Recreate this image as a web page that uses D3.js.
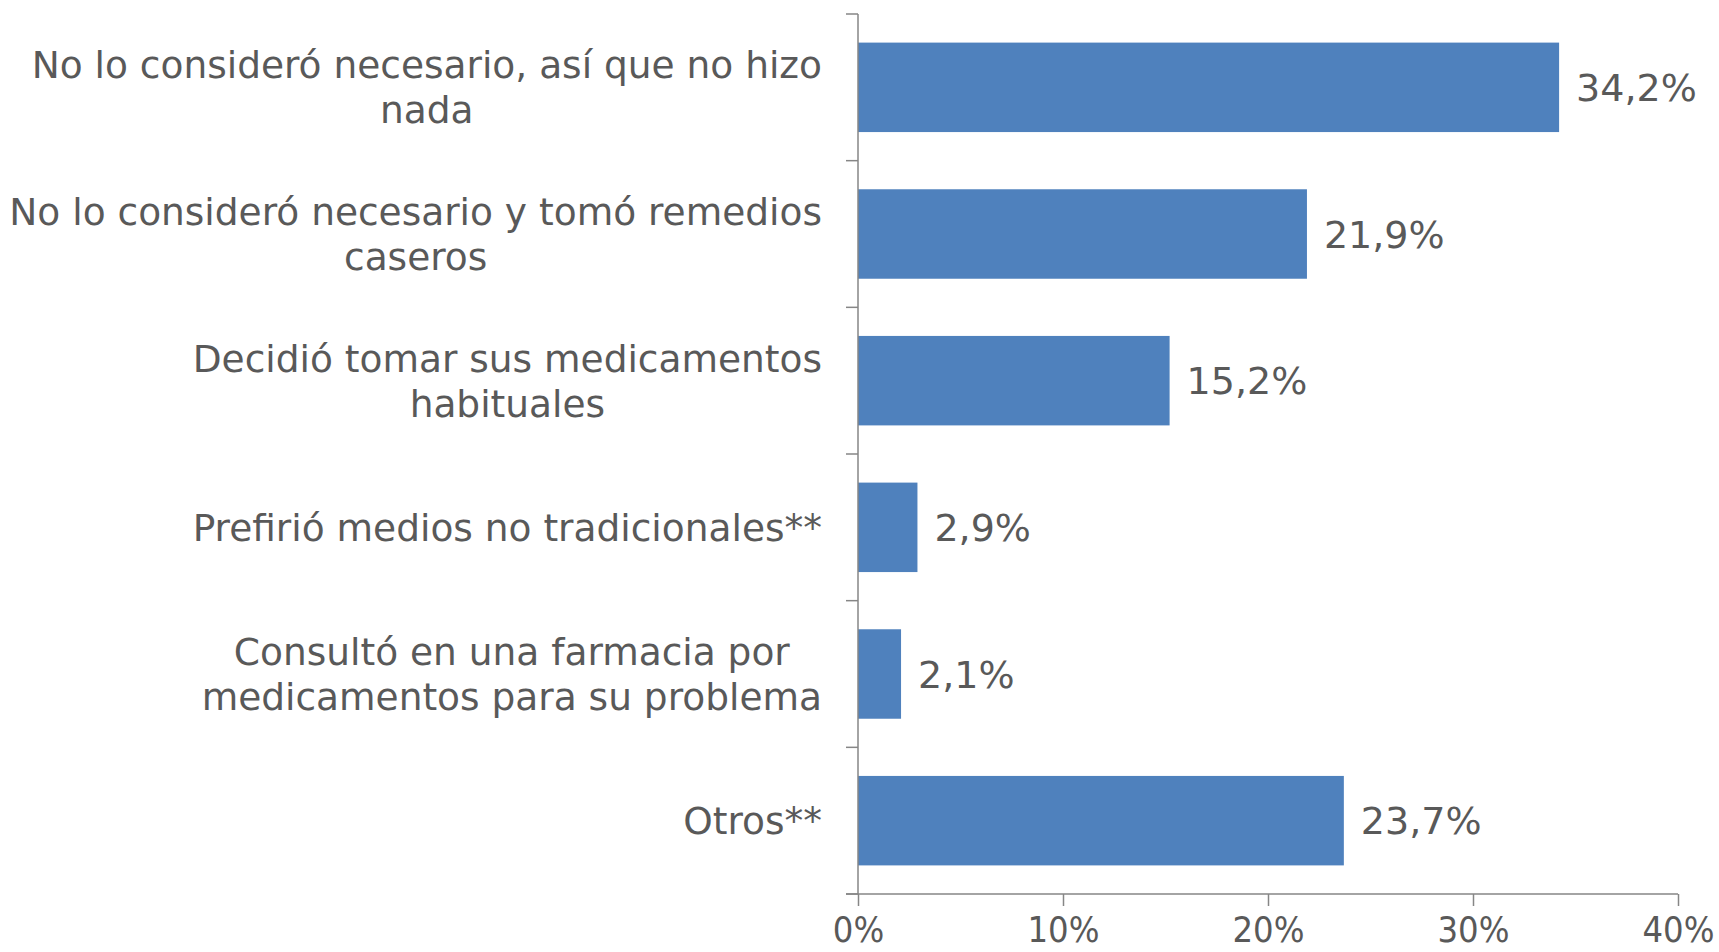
<!DOCTYPE html>
<html>
<head>
<meta charset="utf-8">
<script src="https://cdn.jsdelivr.net/npm/d3@7"></script>
<style>
  body { margin: 0; background: #fff; }
  svg text { font-family: "DejaVu Sans", Verdana, sans-serif; fill: #595959; }
</style>
</head>
<body>
<svg></svg>
<script>
const width = 1719;
const height = 952;

// data
const categories = [
  ["No lo consideró necesario, así que no hizo", "nada"],
  ["No lo consideró necesario y tomó remedios", "caseros"],
  ["Decidió tomar sus medicamentos", "habituales"],
  ["Prefirió medios no tradicionales**"],
  ["Consultó en una farmacia por", "medicamentos para su problema"],
  ["Otros**"]
];
const values = [34.2, 21.9, 15.2, 2.9, 2.1, 23.7];
const xTicks = [0, 10, 20, 30, 40];

const margin = {top: 14, right: 41, bottom: 58, left: 858};
const axisColor = "#868686";
const barColor = "#4f81bd";

var svg = d3.select("svg").attr("width", width).attr("height", height);
var g = svg.append("g").attr("transform", `translate(${margin.left},${margin.top})`);

var innerW = width - margin.left - margin.right;
var innerH = height - margin.top - margin.bottom;

var xScale = d3.scaleLinear().domain([0, 40]).range([0, innerW]);
var yScale = d3.scaleBand()
    .domain(d3.range(categories.length))
    .range([0, innerH])
    .paddingInner(0.39)
    .paddingOuter(0.195);

// bars
g.selectAll("rect.bar")
    .data(values)
    .enter()
    .append("rect")
    .attr("class", "bar")
    .attr("x", 0)
    .attr("y", (d, i) => yScale(i))
    .attr("width", d => xScale(d))
    .attr("height", yScale.bandwidth())
    .attr("fill", barColor);

// value labels
g.selectAll("text.val")
    .data(values)
    .enter()
    .append("text")
    .attr("class", "val")
    .attr("x", d => xScale(d) + 17)
    .attr("y", (d, i) => yScale(i) + yScale.bandwidth() / 2)
    .attr("dy", "0.36em")
    .style("font-size", "38px")
    .text(d => d.toFixed(1).replace(".", ",") + "%");

// x axis
var xAxis = d3.axisBottom(xScale)
    .tickValues(xTicks)
    .tickSize(12)
    .tickPadding(10)
    .tickFormat(d => d + "%");
var xg = g.append("g").attr("transform", `translate(0,${innerH})`).call(xAxis);
xg.select(".domain").remove();
xg.selectAll("line").attr("stroke", axisColor).attr("stroke-width", 1.5);
// tick labels look a bit narrower in the original
xg.selectAll(".tick text")
    .style("font-size", "36px")
    .attr("fill", "#595959")
    .attr("transform", "scale(0.9,1)");
xg.append("line")
    .attr("x1", -12).attr("x2", innerW)
    .attr("stroke", axisColor).attr("stroke-width", 1.5);

// y axis line and boundary ticks
var bounds = d3.range(categories.length + 1).map(i => i * innerH / categories.length);
g.append("line")
    .attr("x1", 0).attr("x2", 0).attr("y1", 0).attr("y2", innerH)
    .attr("stroke", axisColor).attr("stroke-width", 1.5);
g.selectAll("line.ytick")
    .data(bounds)
    .enter()
    .append("line")
    .attr("class", "ytick")
    .attr("x1", -12).attr("x2", 0)
    .attr("y1", d => d).attr("y2", d => d)
    .attr("stroke", axisColor).attr("stroke-width", 1.5);

// category labels
var lineH = 45;
g.selectAll("text.cat")
    .data(categories)
    .enter()
    .append("text")
    .attr("class", "cat")
    .attr("text-anchor", "middle")
    .style("font-size", "37.5px")
    .each(function(lines, i) {
        var t = d3.select(this);
        var cy = yScale(i) + yScale.bandwidth() / 2;
        var y0 = cy - (lines.length - 1) * lineH / 2;
        var w = 0;
        lines.forEach((s, k) => {
            t.append("tspan").attr("y", y0 + k * lineH).attr("dy", "0.36em").text(s);
        });
        // right aligned block, lines centred on each other
        var tsp = t.selectAll("tspan").nodes();
        tsp.forEach(n => { w = Math.max(w, n.getComputedTextLength()); });
        tsp.forEach(n => d3.select(n).attr("x", -36 - w / 2));
    });
</script>
</body>
</html>
